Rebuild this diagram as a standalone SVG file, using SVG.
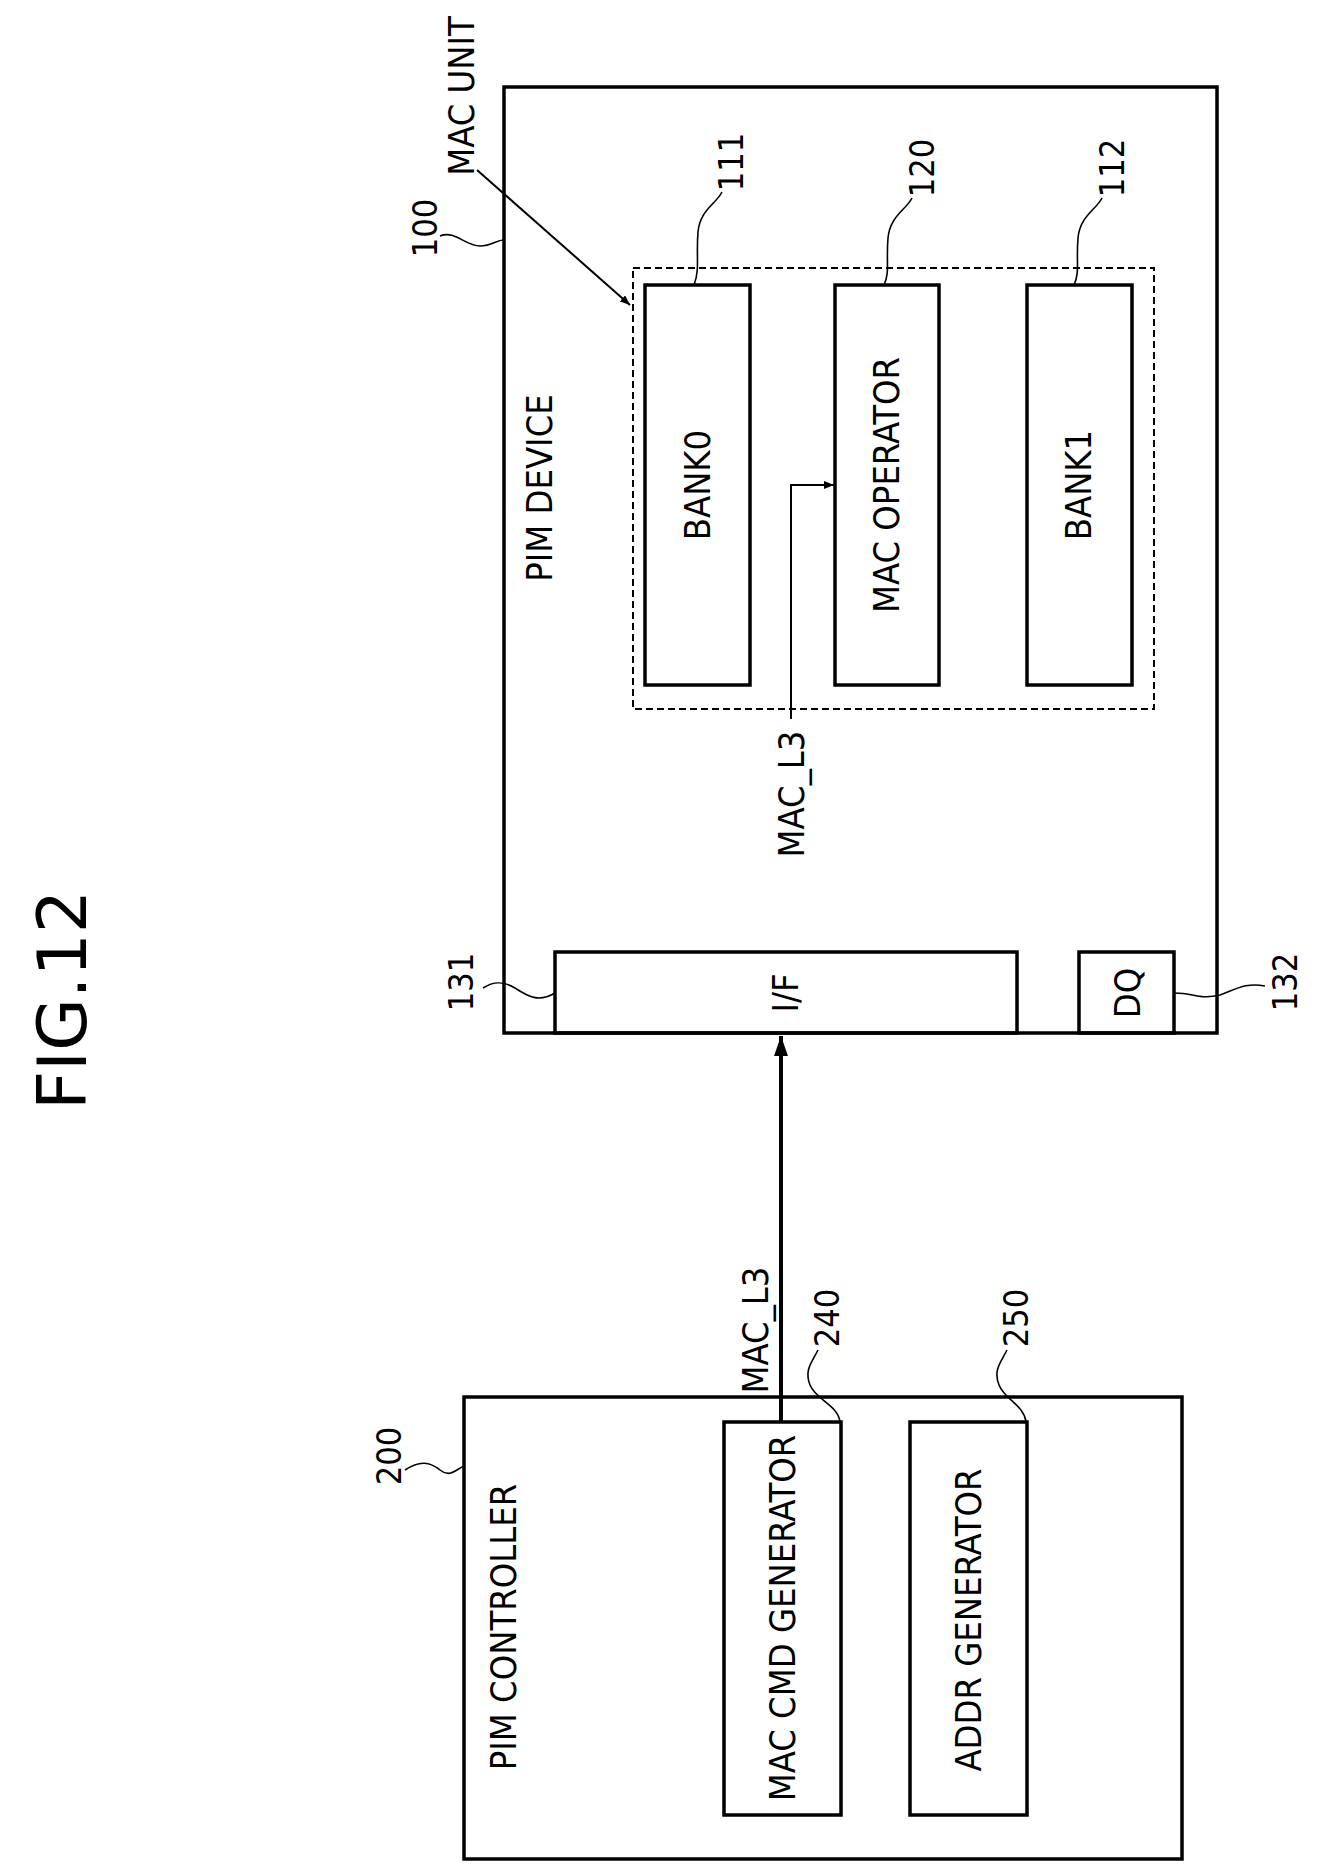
<svg xmlns="http://www.w3.org/2000/svg" width="1318" height="1876" viewBox="0 0 1318 1876">
<defs>
<style>
.b{fill:none;stroke:#000;stroke-width:3.5}
.d{fill:none;stroke:#000;stroke-width:2;stroke-dasharray:7,4}
.l{fill:none;stroke:#000;stroke-width:1.6}
.c{fill:none;stroke:#000;stroke-width:2}
.t{font-family:"DejaVu Sans Condensed","DejaVu Sans",sans-serif;font-size:36px;text-anchor:middle;dominant-baseline:central;fill:#000}
.n{font-family:"DejaVu Sans Condensed","DejaVu Sans",sans-serif;font-size:34px;text-anchor:middle;dominant-baseline:central;fill:#000}
</style>
<marker id="ah" markerWidth="10" markerHeight="8" refX="10" refY="4" orient="auto" markerUnits="userSpaceOnUse"><path d="M0,0 L10,4 L0,8 z" fill="#000"/></marker>
<marker id="ahb" markerWidth="20" markerHeight="14" refX="20" refY="7" orient="auto" markerUnits="userSpaceOnUse"><path d="M0,0 L20,7 L0,14 z" fill="#000"/></marker>
</defs>
<rect width="1318" height="1876" fill="#fff"/>
<text transform="translate(62,1000) rotate(-90)" font-family="DejaVu Sans,sans-serif" font-size="68" text-anchor="middle" dominant-baseline="central">FIG.12</text>
<g id="pim-device">
<rect class="b" x="504" y="87" width="713" height="946"/>
<text class="t" transform="translate(539,488) rotate(-90)">PIM DEVICE</text>
<text class="n" transform="translate(425,228) rotate(-90)">100</text>
<path class="l" d="M440,236 C455,230 465,246 480,246 C492,246 496,240 504,240"/>
</g>
<g id="mac-unit">
<rect class="d" x="633" y="268" width="521" height="441"/>
<text class="t" transform="translate(461,96) rotate(-90)">MAC UNIT</text>
</g>
<g id="bank0">
<rect class="b" x="645" y="285" width="105" height="400"/>
<text class="t" transform="translate(697,485) rotate(-90)">BANK0</text>
<text class="n" transform="translate(731,162) rotate(-90)">111</text>
<path class="l" d="M722,192 C716,204 700,210 698,232 C696,256 700,270 694,285"/>
</g>
<g id="mac-operator">
<rect class="b" x="835" y="285" width="104" height="400"/>
<text class="t" transform="translate(886,485) rotate(-90)">MAC OPERATOR</text>
<text class="n" transform="translate(922,168) rotate(-90)">120</text>
<path class="l" d="M912,198 C906,210 890,216 888,238 C886,262 890,272 884,285"/>
</g>
<g id="bank1">
<rect class="b" x="1027" y="285" width="105" height="400"/>
<text class="t" transform="translate(1078,485) rotate(-90)">BANK1</text>
<text class="n" transform="translate(1112,168) rotate(-90)">112</text>
<path class="l" d="M1102,198 C1096,210 1080,216 1078,238 C1076,262 1080,272 1074,285"/>
</g>
<g id="if">
<rect class="b" x="555" y="952" width="462" height="81"/>
<text class="t" transform="translate(785,993) rotate(-90)">I/F</text>
<text class="n" transform="translate(461,982) rotate(-90)">131</text>
<path class="l" d="M483,988 C495,980 505,982 515,988 C530,998 540,1002 555,993"/>
</g>
<g id="dq">
<rect class="b" x="1079" y="952" width="95" height="81"/>
<text class="t" transform="translate(1127,993) rotate(-90)">DQ</text>
<text class="n" transform="translate(1285,982) rotate(-90)">132</text>
<path class="l" d="M1174,993 C1195,993 1200,1000 1220,995 C1235,990 1245,982 1265,986"/>
</g>
<g id="pim-controller">
<rect class="b" x="464" y="1397" width="718" height="462"/>
<text class="t" transform="translate(503,1627) rotate(-90)">PIM CONTROLLER</text>
<text class="n" transform="translate(389,1456) rotate(-90)">200</text>
<path class="l" d="M405,1470 C420,1460 430,1462 440,1470 C450,1478 455,1470 464,1466"/>
</g>
<g id="mac-cmd-generator">
<rect class="b" x="724" y="1422" width="117" height="393"/>
<text class="t" transform="translate(782,1618) rotate(-90)">MAC CMD GENERATOR</text>
<text class="n" transform="translate(827,1318) rotate(-90)">240</text>
<path class="l" d="M818,1350 C812,1362 804,1370 810,1385 C816,1400 838,1405 840,1422"/>
</g>
<g id="addr-generator">
<rect class="b" x="910" y="1422" width="117" height="393"/>
<text class="t" transform="translate(968,1620) rotate(-90)">ADDR GENERATOR</text>
<text class="n" transform="translate(1016,1318) rotate(-90)">250</text>
<path class="l" d="M1007,1350 C1001,1362 993,1370 999,1385 C1005,1400 1024,1405 1026,1422"/>
</g>
<g id="connectors">
<line x1="781" y1="1422" x2="781" y2="1036" stroke="#000" stroke-width="4" marker-end="url(#ahb)"/>
<text class="t" transform="translate(755,1330) rotate(-90)">MAC_L3</text>
<path class="c" d="M791,719 L791,485 L834,485" marker-end="url(#ah)"/>
<text class="t" transform="translate(791,794) rotate(-90)">MAC_L3</text>
<line class="c" x1="477" y1="170" x2="630" y2="305" stroke-width="1.6" marker-end="url(#ah)"/>
</g>
</svg>
